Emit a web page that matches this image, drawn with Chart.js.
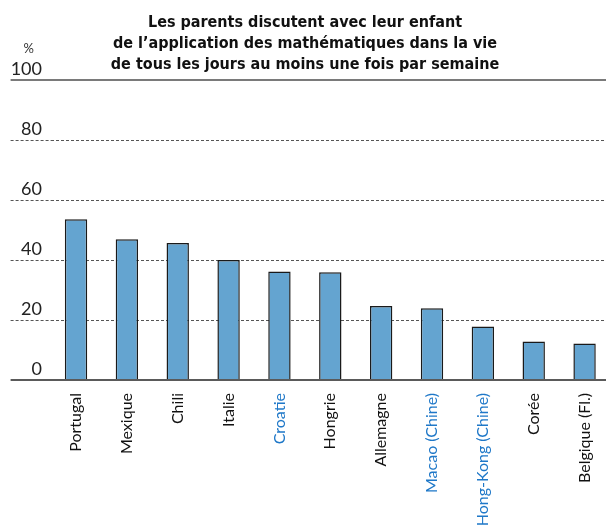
<!DOCTYPE html>
<html lang="fr">
<head>
<meta charset="utf-8">
<title>Discussions parents-enfants sur les mathématiques</title>
<script src="https://cdn.jsdelivr.net/npm/chart.js@4/dist/chart.umd.min.js"></script>
<style>
  html, body { margin: 0; padding: 0; background: #fff; overflow: hidden; }
  #wrap { width: 610px; height: 530px; }
</style>
</head>
<body>
<div id="wrap"><canvas id="chart" width="610" height="530"></canvas></div>
<script>
const countries = [
  "Portugal", "Mexique", "Chili", "Italie", "Croatie", "Hongrie",
  "Allemagne", "Macao (Chine)", "Hong-Kong (Chine)", "Corée", "Belgique (Fl.)"
];
// partner economies get blue labels
const partners = ["Croatie", "Macao (Chine)", "Hong-Kong (Chine)"];
const shares = [53.6, 46.9, 45.7, 40.0, 36.2, 35.9, 24.7, 23.9, 17.8, 12.8, 12.2];
const yTicks = [0, 20, 40, 60, 80, 100];
const titleLines = [
  "Les parents discutent avec leur enfant",
  "de l\u2019application des mathématiques dans la vie",
  "de tous les jours au moins une fois par semaine"
];

const solidLine = (v) => v === 0 || v === 100;
const lineColor = (v) => v === 100 ? "#7a7a7a" : (v === 0 ? "#5a5a5a" : "#555");

// small "%" unit above the top y label
const percentUnit = {
  id: "percentUnit",
  afterDraw(chart) {
    const y = chart.scales.y;
    const ctx = chart.ctx;
    ctx.save();
    ctx.font = "13px Lato";
    ctx.fillStyle = "#333";
    ctx.textAlign = "center";
    ctx.textBaseline = "middle";
    ctx.fillText("%", y.right - 22, y.getPixelForValue(100) - 31);
    ctx.restore();
  }
};

new Chart(document.getElementById("chart"), {
  type: "bar",
  data: {
    labels: countries,
    datasets: [{
      data: shares,
      backgroundColor: "#64a4d0",
      borderColor: "#1a1a1a",
      borderWidth: 1.5,
      borderSkipped: "bottom",
      barPercentage: 0.44,
      categoryPercentage: 1
    }]
  },
  options: {
    responsive: false,
    animation: false,
    layout: { padding: 0 },
    plugins: {
      legend: { display: false },
      tooltip: { enabled: false },
      title: {
        display: true,
        text: titleLines,
        color: "#111",
        font: { family: "\"Liberation Sans Narrow\", \"DejaVu Sans Condensed\", sans-serif", size: 16, weight: "bold", lineHeight: 21 / 16 },
        padding: { top: 12, bottom: 5 }
      }
    },
    scales: {
      x: {
        grid: { display: false },
        border: { display: false },
        afterFit(scale) { scale.height = 150; },
        ticks: {
          autoSkip: false,
          minRotation: 90,
          maxRotation: 90,
          padding: 5,
          font: { family: "Lato", size: 16 },
          color: (ctx) => partners.includes(countries[ctx.index]) ? "#1f78c8" : "#111"
        }
      },
      y: {
        min: 0,
        max: 100,
        afterFit(scale) { scale.width = 50.6; },
        afterBuildTicks(scale) { scale.ticks = yTicks.map(v => ({ value: v })); },
        border: {
          display: false,
          dash: (ctx) => ctx.tick && solidLine(ctx.tick.value) ? [] : [3, 2]
        },
        grid: {
          color: (ctx) => lineColor(ctx.tick.value),
          lineWidth: (ctx) => solidLine(ctx.tick.value) ? 2 : 1,
          tickColor: (ctx) => lineColor(ctx.tick.value),
          tickWidth: (ctx) => solidLine(ctx.tick.value) ? 2 : 1,
          tickBorderDash: (ctx) => solidLine(ctx.tick.value) ? [] : [3, 2],
          tickLength: 40
        },
        ticks: {
          padding: -31.4,
          labelOffset: -10.5,
          font: { family: "Lato", size: 18 },
          color: "#222"
        }
      }
    }
  },
  plugins: [percentUnit]
});
</script>
</body>
</html>
